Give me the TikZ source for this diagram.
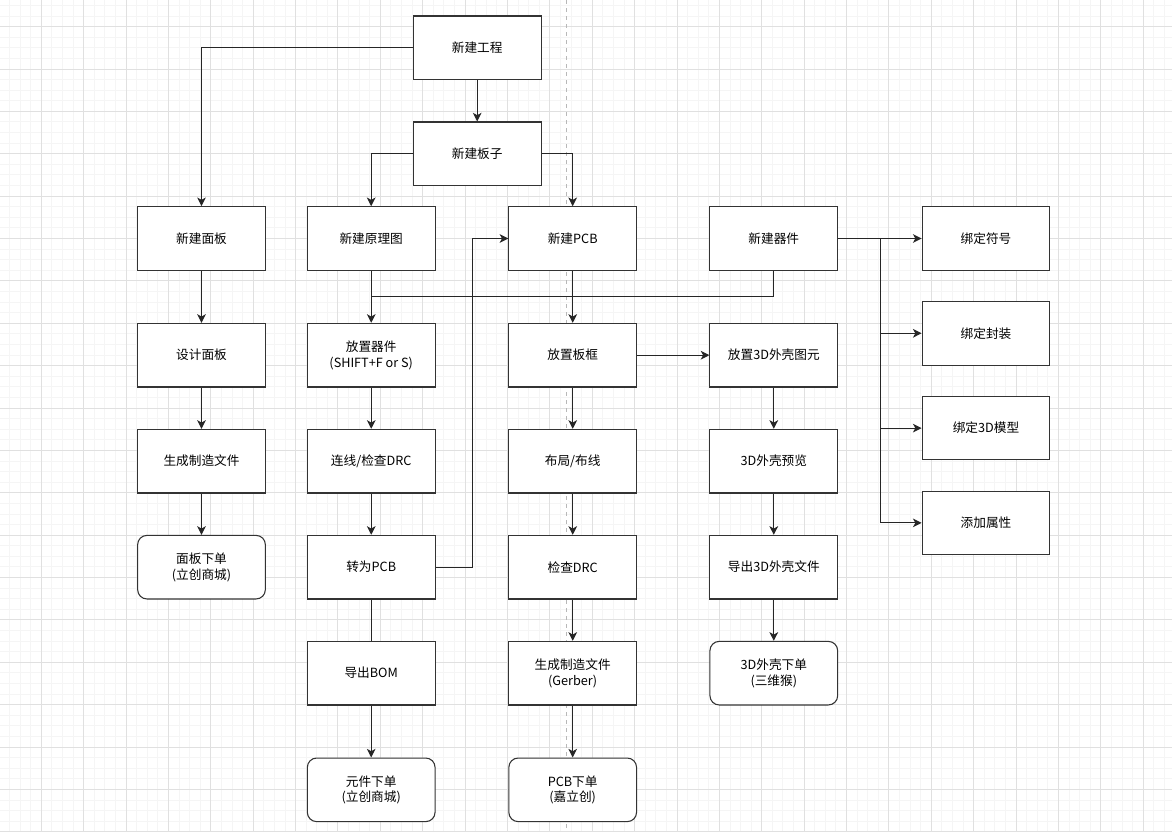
\documentclass[tikz,border=0pt]{standalone}
\usepackage{fontspec}
\setmainfont{Noto Sans CJK SC}
\usepackage{tikz}
\usetikzlibrary{arrows.meta,positioning,calc}

\begin{document}
\begin{tikzpicture}[x=0.75pt, y=-0.75pt,
    box/.style={rectangle, draw=black!80, fill=white, line width=0.8pt, minimum width=95.8pt, minimum height=47.7pt, inner sep=1pt, align=center, font=\fontsize{9.5}{11.8}\selectfont},
    orderbox/.style={box, rounded corners=7pt},
    arrow/.style={->, >={Stealth[length=6.5pt, width=6.5pt, inset=1.8pt]}, line width=0.8pt, draw=black!85},
    line/.style={line width=0.8pt, draw=black!85},
    gridminor/.style={draw=black!4, line width=0.7pt},
    gridmajor/.style={draw=black!12, line width=0.7pt},
    node distance=31pt]
  % page and grid
  \useasboundingbox[fill=white] (0,0) rectangle (1172,832);
  \foreach \i in {-3,...,107} \draw[gridminor] ({41.3+10.595*\i},0) -- ({41.3+10.595*\i},832);
  \foreach \i in {-2,...,76} \draw[gridminor] (0,{26.6+10.595*\i}) -- (1172,{26.6+10.595*\i});
  \foreach \i in {-0,...,26} \draw[gridmajor] ({41.3+42.38*\i},0) -- ({41.3+42.38*\i},832);
  \foreach \i in {0,...,19} \draw[gridmajor] (0,{26.6+42.38*\i}) -- (1172,{26.6+42.38*\i});
  \draw[black!28, line width=0.7pt, dash pattern=on 3pt off 3pt] (566.7,0) -- (566.7,832);

  \node[box] (proj) at (477.2,47.8) {新建工程};
  \node[box, below=of proj] (board) {新建板子};
  \node[box] (panel) at (201.5,238.5) {新建面板};
  \node[box] (sch) at (371.2,238.5) {新建原理图};
  \node[box] (pcb) at (572.7,238.5) {新建PCB};
  \node[box] (dev) at (773.8,238.5) {新建器件};
  \node[box] (sym) at (986,238.5) {绑定符号};
  \node[box, below=22.6pt of sym] (fp) {绑定封装};
  \node[box, below=22.6pt of fp] (model) {绑定3D模型};
  \node[box, below=22.6pt of model] (attr) {添加属性};

  % panel column
  \node[box, below=39pt of panel] (design) {设计面板};
  \node[box, below=of design] (panelfab) {生成制造文件};
  \node[orderbox, below=of panelfab] (panelorder) {面板下单\\(立创商城)};

  % schematic column
  \node[box, below=39pt of sch] (place) {放置器件\\(SHIFT+F or S)};
  \node[box, below=of place] (wire) {连线/检查DRC};
  \node[box, below=of wire] (topcb) {转为PCB};
  \node[box, below=of topcb] (bom) {导出BOM};
  \node[orderbox, below=39pt of bom] (bomorder) {元件下单\\(立创商城)};

  % pcb column
  \node[box, below=39pt of pcb] (frame) {放置板框};
  \node[box, below=of frame] (layout) {布局/布线};
  \node[box, below=of layout] (drc) {检查DRC};
  \node[box, below=of drc] (gerber) {生成制造文件\\(Gerber)};
  \node[orderbox, below=39pt of gerber] (pcborder) {PCB下单\\(嘉立创)};

  % shell column
  \node[box, below=39pt of dev] (shell) {放置3D外壳图元};
  \node[box, below=of shell] (preview) {3D外壳预览};
  \node[box, below=of preview] (export) {导出3D外壳文件};
  \node[orderbox, below=of export] (shellorder) {3D外壳下单\\(三维猴)};

  % connectors
  \draw[arrow] (proj.west) -| (panel.north);
  \draw[arrow] (proj) -- (board);
  \draw[arrow] (board.west) -| (sch.north);
  \draw[arrow] (board.east) -| (pcb.north);
  \foreach \a/\b in {panel/design, design/panelfab, panelfab/panelorder,
      sch/place, place/wire, wire/topcb, bom/bomorder,
      pcb/frame, frame/layout, layout/drc, drc/gerber, gerber/pcborder,
      frame/shell, shell/preview, preview/export, export/shellorder}
    \draw[arrow] (\a) -- (\b);
  \coordinate (join) at ($(sch.south)!0.5!(place.north)$);
  \draw[line] (dev.south) |- (join);
  \draw[line] (topcb) -- (bom);
  \draw[arrow] (topcb.east) -- ++(36.5,0) |- (pcb.west);
  \draw[arrow] (dev.east) -- (sym.west);
  \foreach \b in {fp,model,attr}
    \draw[arrow] (dev.east) -- ++(42.7,0) |- (\b.west);
\end{tikzpicture}
\end{document}
